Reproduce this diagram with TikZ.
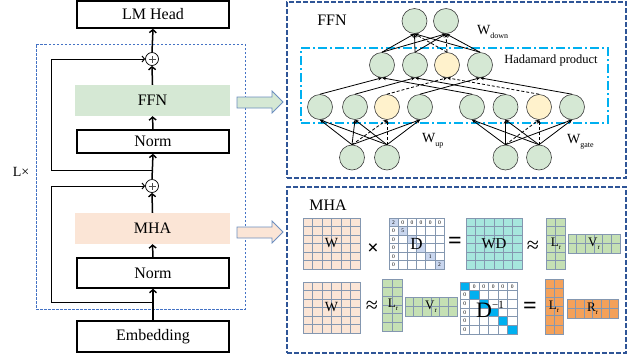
\documentclass[tikz,border=0pt]{standalone}
\usepackage{fontspec}
\setmainfont{Liberation Serif}
\usetikzlibrary{arrows.meta}
\definecolor{ffngreen}{HTML}{D5E8D4}
\definecolor{mhapeach}{HTML}{FBE5D6}
\definecolor{neugreen}{HTML}{D5E8D4}
\definecolor{neuyellow}{HTML}{FFF2CC}
\definecolor{boxblue}{HTML}{2F5597}
\definecolor{lblue}{HTML}{4472C4}
\definecolor{arrblue}{HTML}{6C8EBF}
\definecolor{hadcyan}{HTML}{00B0F0}
\definecolor{gridc}{HTML}{8497B0}
\definecolor{wdcyan}{HTML}{A6E6DD}
\definecolor{lrgreen}{HTML}{C5E0B4}
\definecolor{lrorange}{HTML}{F4A15A}
\definecolor{dshade}{HTML}{C9D6EE}
\newcommand{\fs}[1]{\fontsize{#1}{#1}\selectfont}
\newcommand{\gridmat}[7]{%
  \fill[#7] (#1,#2) rectangle ++(#3,#4);
  \pgfmathtruncatemacro{\ncm}{#5-1}%
  \pgfmathtruncatemacro{\nrm}{#6-1}%
  \foreach \i in {1,...,\ncm} \draw[gridc, line width=0.6pt] ({#1+\i*#3/#5},#2) -- ++(0,#4);
  \foreach \j in {1,...,\nrm} \draw[gridc, line width=0.6pt] (#1,{#2+\j*#4/#6}) -- ++(#3,0);
  \draw[gridc, line width=0.9pt] (#1,#2) rectangle ++(#3,#4);
}
\tikzset{
  blk/.style={draw, line width=1.6pt, minimum width=152pt, inner sep=0pt, font=\fs{16}},
  fillblk/.style={minimum width=155pt, minimum height=31pt, inner sep=0pt, font=\fs{16}},
  plusn/.style={circle, draw, line width=0.7pt, minimum size=13pt, inner sep=0pt},
  mainarr/.style={line width=1.5pt, -{Straight Barb[length=3pt,width=7pt,line width=1.4pt]}},
  skiparr/.style={line width=1pt, -{Straight Barb[length=2.5pt,width=6pt]}},
  outerbox/.style={draw=boxblue, line width=1.8pt, dash pattern=on 5pt off 2pt, minimum width=339pt, inner sep=0pt},
  neu/.style={circle, draw=black!75, line width=0.6pt, fill=neugreen, minimum size=25pt, inner sep=0pt},
  neuy/.style={neu, fill=neuyellow},
  conn/.style={line width=0.8pt, -{Stealth[length=4pt,width=3.5pt]}},
  dconn/.style={conn, dash pattern=on 3pt off 2pt},
  lab/.style={inner sep=0pt, font=\fs{14}},
  opr/.style={inner sep=0pt},
  tiny/.style={inner sep=0pt, font=\fs{5.5}},
}
\begin{document}
\begin{tikzpicture}[x=1pt,y=-1pt]
\useasboundingbox (0,0) rectangle (635,360);
% ---------------- left column ----------------
\node[draw=lblue, line width=0.8pt, dash pattern=on 2.5pt off 1.5pt, minimum width=209pt, minimum height=265pt, inner sep=0pt] (Lblock) at (140.5,176.5) {};
\node[font=\fs{14}, inner sep=0pt] (Ltimes) at (21,172) {L×};
\node[blk, minimum height=27pt] (lm) at (153,14.5) {LM Head};
\node[plusn] (p1) at (152,59) {};
\node[fillblk, fill=ffngreen] (ffn) at (152.5,100.5) {FFN};
\node[blk, minimum height=23pt] (norm1) at (153,141.5) {Norm};
\node[plusn] (p2) at (152,186) {};
\node[fillblk, fill=mhapeach] (mha) at (152.5,228.5) {MHA};
\node[blk, minimum height=30pt] (norm2) at (153,273) {Norm};
\node[blk, minimum height=31pt] (emb) at (153,336.5) {Embedding};
\foreach \p in {p1,p2}{
  \draw[black!70, line width=0.5pt] ([xshift=-3.5pt]\p.center) -- ([xshift=3.5pt]\p.center);
  \draw[black!70, line width=0.5pt] ([yshift=-3.5pt]\p.center) -- ([yshift=3.5pt]\p.center);
}
\draw[mainarr] (p1.north) -- (lm.south);
\draw[mainarr] (ffn.north) -- (p1.south);
\draw[mainarr] (norm1.north) -- (ffn.south);
\draw[mainarr] (p2.north) -- (norm1.south);
\draw[mainarr] (mha.north) -- (p2.south);
\draw[mainarr] (norm2.north) -- (mha.south);
\draw[mainarr] (emb.north) -- (norm2.south);
\coordinate (s1a) at (152,170);
\coordinate (s1b) at (51,170);
\coordinate (s1c) at (51,59);
\draw[skiparr] (s1a) -- (s1b) -- (s1c) -- (p1.west);
\coordinate (s2a) at (152,302);
\coordinate (s2b) at (51,302);
\coordinate (s2c) at (51,186);
\draw[skiparr] (s2a) -- (s2b) -- (s2c) -- (p2.west);
% block arrows
\draw[arrblue, fill=ffngreen, line width=0.8pt] (237,97) -- (272,97) -- (272,91) -- (283,102) -- (272,113) -- (272,108) -- (237,108) -- cycle;
\draw[arrblue, fill=mhapeach, line width=0.8pt] (237,227) -- (272,227) -- (272,221) -- (283,232) -- (272,243) -- (272,238) -- (237,238) -- cycle;
% ---------------- FFN panel ----------------
\node[outerbox, minimum height=176pt] (ffnbox) at (456.5,90) {};
\node[lab, font=\fs{16}] (ffnlab) at (332,20) {FFN};
\node[draw=hadcyan, line width=1.5pt, dash pattern=on 9pt off 3pt on 2pt off 3pt, minimum width=307pt, minimum height=75pt, inner sep=0pt] (had) at (454.5,85.5) {};
\node[inner sep=0pt, font=\fs{12.5}] (hadlab) at (551,60) {Hadamard product};
\node[inner sep=0pt, font=\fs{14}, anchor=west] (wdown) at (477,32) {W\raisebox{-4pt}{\fs{8}down}};
\node[inner sep=0pt, font=\fs{14}, anchor=west] (wup) at (422,141) {W\raisebox{-4pt}{\fs{8}up}};
\node[inner sep=0pt, font=\fs{14}, anchor=west] (wgate) at (567,142) {W\raisebox{-4pt}{\fs{8}gate}};
% neurons
\node[neu] (t1) at (414.5,21) {};
\node[neu] (t2) at (446,21) {};
\node[neu] (m1) at (382,65) {};
\node[neu] (m2) at (415,65) {};
\node[neuy] (m3) at (447,65) {};
\node[neu] (m4) at (480,65) {};
\node[neu] (l1) at (320,107) {};
\node[neu] (l2) at (355,107) {};
\node[neuy] (l3) at (387,107) {};
\node[neu] (l4) at (420,107) {};
\node[neu] (l5) at (472,107) {};
\node[neu] (l6) at (505.5,107) {};
\node[neuy] (l7) at (539,107) {};
\node[neu] (l8) at (572,107) {};
\node[neu] (b1) at (352,157.5) {};
\node[neu] (b2) at (387,157.5) {};
\node[neu] (b3) at (505.5,157.5) {};
\node[neu] (b4) at (539,157.5) {};
\foreach \s in {b1,b2}{
  \foreach \t in {l1,l2,l4} \draw[conn] (\s.north) -- (\t.south);
  \draw[dconn] (\s.north) -- (l3.south);
}
\foreach \s in {b3,b4}{
  \foreach \t in {l5,l6,l8} \draw[conn] (\s.north) -- (\t.south);
  \draw[dconn] (\s.north) -- (l7.south);
}
\draw[conn] (l1.north) -- (m1.south);
\draw[conn] (l5.north) -- (m1.south);
\draw[conn] (l2.north) -- (m2.south);
\draw[conn] (l6.north) -- (m2.south);
\draw[dconn] (l3.north) -- (m3.south);
\draw[dconn] (l7.north) -- (m3.south);
\draw[conn] (l4.north) -- (m4.south);
\draw[conn] (l8.north) -- (m4.south);
\foreach \s in {m1,m2,m4}{
  \foreach \t in {t1,t2} \draw[conn] (\s.north) -- (\t.south);
}
\foreach \t in {t1,t2} \draw[dconn] (m3.north) -- (\t.south);
% ---------------- MHA panel ----------------
\node[outerbox, minimum height=166pt] (mhabox) at (456.5,270) {};
\node[lab, font=\fs{16}] (mhalab) at (328,205) {MHA};
% row 1
\gridmat{303}{218}{57}{51}{6}{6}{mhapeach}
\gridmat{389}{218}{55}{51}{6}{6}{white}
\foreach \i in {0,...,5} \fill[dshade] ({389+\i*55/6},{218+\i*51/6}) rectangle ++({55/6},{51/6});
\foreach \i in {1,...,5} \draw[gridc, line width=0.6pt] ({389+\i*55/6},218) -- ++(0,51);
\foreach \j in {1,...,5} \draw[gridc, line width=0.6pt] (389,{218+\j*51/6}) -- ++(55,0);
\draw[gridc, line width=0.9pt] (389,218) rectangle ++(55,51);
\foreach \i in {1,...,5} \node[tiny] at ({389+(\i+0.5)*55/6},{218+0.5*51/6}) {0};
\foreach \j in {1,...,5} \node[tiny] at ({389+0.5*55/6},{218+(\j+0.5)*51/6}) {0};
\node[tiny] at ({389+0.5*55/6},{218+0.5*51/6}) {2};
\node[tiny] at ({389+1.5*55/6},{218+1.5*51/6}) {5};
\node[tiny] at ({389+4.5*55/6},{218+4.5*51/6}) {1};
\node[tiny] at ({389+5.5*55/6},{218+5.5*51/6}) {2};
\gridmat{466}{218}{56}{51}{6}{6}{wdcyan}
\gridmat{546}{218}{19}{51}{2}{6}{lrgreen}
\gridmat{568}{234}{52}{19}{6}{2}{lrgreen}
\node[lab] (w1) at (331.5,243.5) {W};
\node[opr, font=\bfseries\fs{20}] (times) at (373,249) {×};
\node[lab, font=\fs{17}] (dlab) at (416.5,243.5) {D};
\node[opr, font=\bfseries\fs{24}] (eq1) at (455,243) {=};
\node[lab, font=\fs{15}] (wd) at (494,243.5) {WD};
\node[opr, font=\fs{22}] (ap1) at (533,247) {≈};
\node[lab, font=\fs{13}] (lr1) at (556,243.5) {L\raisebox{-3pt}{\fs{7}r}};
\node[lab, font=\fs{13}] (vr1) at (594,243.5) {V\raisebox{-3pt}{\fs{7}r}};
% row 2
\gridmat{303}{282}{57}{51}{6}{6}{mhapeach}
\gridmat{382}{279}{20}{52}{2}{6}{lrgreen}
\gridmat{405}{297}{52}{19}{6}{2}{lrgreen}
\gridmat{460}{282}{57}{52}{6}{6}{white}
\foreach \i in {0,...,5} \fill[hadcyan] ({460+\i*57/6},{282+\i*52/6}) rectangle ++({57/6},{52/6});
\foreach \i in {1,...,5} \draw[gridc, line width=0.6pt] ({460+\i*57/6},282) -- ++(0,52);
\foreach \j in {1,...,5} \draw[gridc, line width=0.6pt] (460,{282+\j*52/6}) -- ++(57,0);
\draw[gridc, line width=0.9pt] (460,282) rectangle ++(57,52);
\foreach \i in {1,...,5} \node[tiny] at ({460+(\i+0.5)*57/6},{282+0.5*52/6}) {0};
\foreach \j in {1,...,5} \node[tiny] at ({460+0.5*57/6},{282+(\j+0.5)*52/6}) {0};
\gridmat{545}{279}{18}{55}{2}{6}{lrorange}
\gridmat{567}{299}{51}{19}{6}{2}{lrorange}
\node[lab] (w2) at (331.5,307.5) {W};
\node[opr, font=\fs{22}] (ap2) at (372,307) {≈};
\node[lab, font=\fs{13}] (lr2) at (393,305) {L\raisebox{-3pt}{\fs{7}r}};
\node[lab, font=\fs{13}] (vr2) at (431,306.5) {V\raisebox{-3pt}{\fs{7}r}};
\node[lab, font=\fs{22}] (dinv) at (490,309) {D\raisebox{9pt}{\fs{11}−1}};
\node[opr, font=\bfseries\fs{24}] (eq2) at (530,308) {=};
\node[lab, font=\fs{13}] (lr3) at (554,306.5) {L\raisebox{-3pt}{\fs{7}r}};
\node[lab, font=\fs{13}] (rr) at (592.5,308.5) {R\raisebox{-3pt}{\fs{7}r}};
\end{tikzpicture}
\end{document}
